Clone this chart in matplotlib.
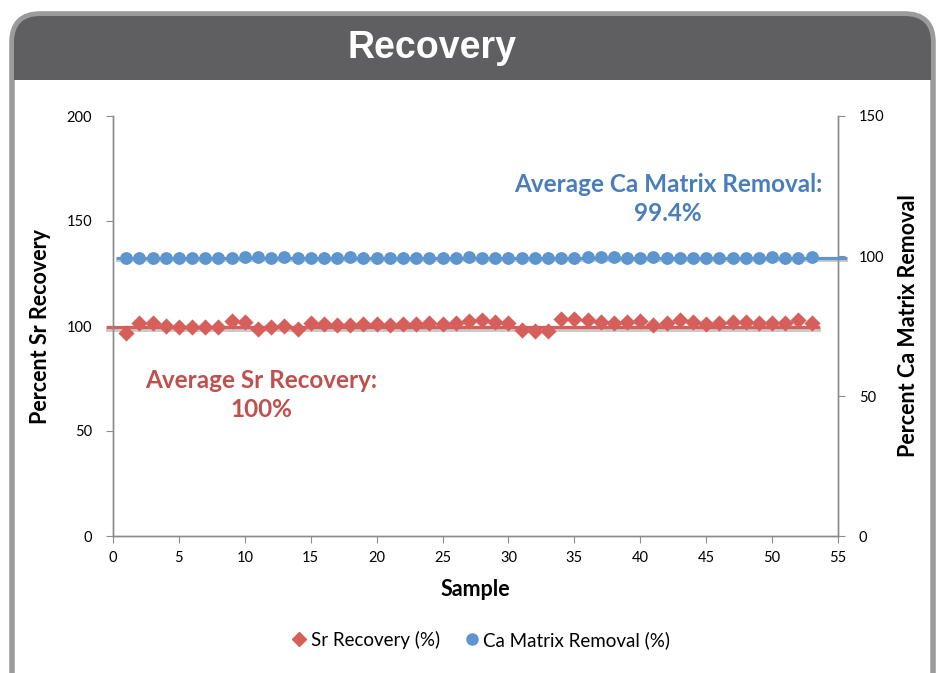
import matplotlib
matplotlib.use("Agg")
import matplotlib.pyplot as plt
from matplotlib.patches import FancyBboxPatch, Rectangle
from matplotlib.lines import Line2D
import numpy as np

samples = list(range(1, 54))
sr_recovery = [96.8, 101.2, 101.2, 100.0, 99.4, 99.4, 99.4, 99.4, 102.6, 102.1,
               98.6, 99.3, 100.0, 98.6, 101.4, 101.1, 100.5, 100.5, 101.1, 101.1,
               100.5, 100.8, 101.1, 101.4, 100.8, 101.4, 102.2, 103.0, 101.8, 101.4,
               98.0, 97.6, 97.6, 103.4, 103.4, 102.8, 101.8, 101.2, 101.8, 102.5,
               100.5, 101.2, 103.0, 101.8, 100.8, 101.4, 101.8, 101.8, 101.4, 101.4,
               101.2, 102.8, 101.4]
ca_removal = [99.4, 99.3, 99.3, 99.3, 99.3, 99.3, 99.3, 99.3, 99.3, 99.6,
              99.6, 99.4, 99.6, 99.4, 99.3, 99.3, 99.4, 99.6, 99.3, 99.3,
              99.3, 99.3, 99.3, 99.3, 99.3, 99.4, 99.6, 99.4, 99.3, 99.3,
              99.3, 99.3, 99.3, 99.3, 99.4, 99.6, 99.6, 99.6, 99.4, 99.4,
              99.6, 99.3, 99.4, 99.3, 99.3, 99.3, 99.3, 99.3, 99.4, 99.6,
              99.3, 99.3, 99.6]
sr_avg = 99.3
ca_avg = 99.4
x_ticks = [0, 5, 10, 15, 20, 25, 30, 35, 40, 45, 50, 55]
left_ticks = [0, 50, 100, 150, 200]
right_ticks = [0, 50, 100, 150]

RED = '#d65f5b'
BLUE = '#5d95cf'
RED_TXT = '#c0504d'
BLUE_TXT = '#4a7ebb'
TICKFONT = 'Lato'

fig = plt.figure(figsize=(9.41, 6.73), dpi=100)
fig.patch.set_facecolor('white')

# frame
frame = FancyBboxPatch((12/941, -0.1), (921/941), 1 - 14/673 + 0.1,
                       boxstyle="round,pad=0,rounding_size=0.03",
                       transform=fig.transFigure, facecolor='white',
                       edgecolor='#9b9b9d', linewidth=4, zorder=0,
                       mutation_aspect=941/673)
fig.patches.append(frame)
header = FancyBboxPatch((14/941, 1 - 80/673), (917/941), (64/673),
                        boxstyle="round,pad=0,rounding_size=0.028",
                        transform=fig.transFigure, facecolor='#5f5f61',
                        edgecolor='none', zorder=1, mutation_aspect=941/673)
fig.patches.append(header)
fig.patches.append(Rectangle((14/941, 1 - 80/673), 917/941, 30/673,
                             transform=fig.transFigure, facecolor='#5f5f61',
                             edgecolor='none', zorder=1))
fig.text(432/941, 1 - 48/673, 'Recovery', color='white', fontsize=27,
         fontweight='bold', family='Liberation Sans', ha='center', va='center')

ax = fig.add_axes([113/941, 1 - 536/673, 725/941, 420/673])
ax2 = ax.twinx()
ax.set_zorder(3)
ax2.set_zorder(4)
ax.patch.set_visible(False)
ax2.patch.set_visible(False)

ax.set_xlim(0, 55)
ax.set_ylim(0, 200)
ax2.set_ylim(0, 150)

# average lines
ax.plot([-0.4, 53.5], [sr_avg - 0.7, sr_avg - 0.7], color='#c8c8c8', lw=3.5, clip_on=False, zorder=2)
ax.plot([-0.4, 53.5], [sr_avg, sr_avg], color=RED, lw=2.3, clip_on=False, zorder=3)
ax2.plot([0.4, 55.5], [ca_avg - 0.5, ca_avg - 0.5], color='#c8c8c8', lw=3.5, clip_on=False, zorder=2)
ax2.plot([0.4, 55.5], [ca_avg, ca_avg], color=BLUE, lw=2.3, clip_on=False, zorder=3)

ax.scatter(samples, sr_recovery, marker='D', s=68, color=RED, zorder=4, linewidths=0)
ax2.scatter(samples, ca_removal, marker='o', s=85, color=BLUE, zorder=4, linewidths=0)

for a in (ax, ax2):
    for s in a.spines.values():
        s.set_color('#8c8c8c')
        s.set_linewidth(1)
    a.spines['top'].set_visible(False)

ax.set_xticks(x_ticks)
ax.set_yticks(left_ticks)
ax2.set_yticks(right_ticks)
ax.tick_params(axis='both', colors='#8c8c8c', labelcolor='black', length=5,
               direction='out', labelsize=10.5)
ax2.tick_params(axis='y', colors='#8c8c8c', labelcolor='black', length=5,
                direction='out', labelsize=10.5)
for lbl in ax.get_xticklabels() + ax.get_yticklabels() + ax2.get_yticklabels():
    lbl.set_family(TICKFONT)
ax.tick_params(axis='x', pad=6)
ax.tick_params(axis='y', pad=10)
ax2.tick_params(axis='y', pad=10)

ax.set_xlabel('Sample', fontsize=15.5, fontweight='bold', family=TICKFONT, labelpad=10)
ax.set_ylabel('Percent Sr Recovery', fontsize=15.5, fontweight='bold', family=TICKFONT, labelpad=11)
ax2.set_ylabel('Percent Ca Matrix Removal', fontsize=15.5, fontweight='bold', family=TICKFONT,
               labelpad=10, rotation=90)

fig.text(668/941, 1 - 199/673, 'Average Ca Matrix Removal:\n99.4%', color=BLUE_TXT,
         fontsize=17.5, fontweight='bold', family=TICKFONT, ha='center', va='center',
         linespacing=1.3)
fig.text(261/941, 1 - 395/673, 'Average Sr Recovery:\n100%', color=RED_TXT,
         fontsize=17.5, fontweight='bold', family=TICKFONT, ha='center', va='center',
         linespacing=1.3)

handles = [Line2D([], [], marker='D', color=RED, linestyle='none', markersize=7),
           Line2D([], [], marker='o', color=BLUE, linestyle='none', markersize=8)]
fig.legend(handles, ['Sr Recovery (%)', 'Ca Matrix Removal (%)'], loc='center',
           bbox_to_anchor=(480/941, 1 - 640/673), ncol=2, frameon=False,
           prop={'family': TICKFONT, 'size': 13.5}, handletextpad=0.1,
           columnspacing=1.2, handlelength=1.0)

fig.savefig('out.png', dpi=100, facecolor='white')
